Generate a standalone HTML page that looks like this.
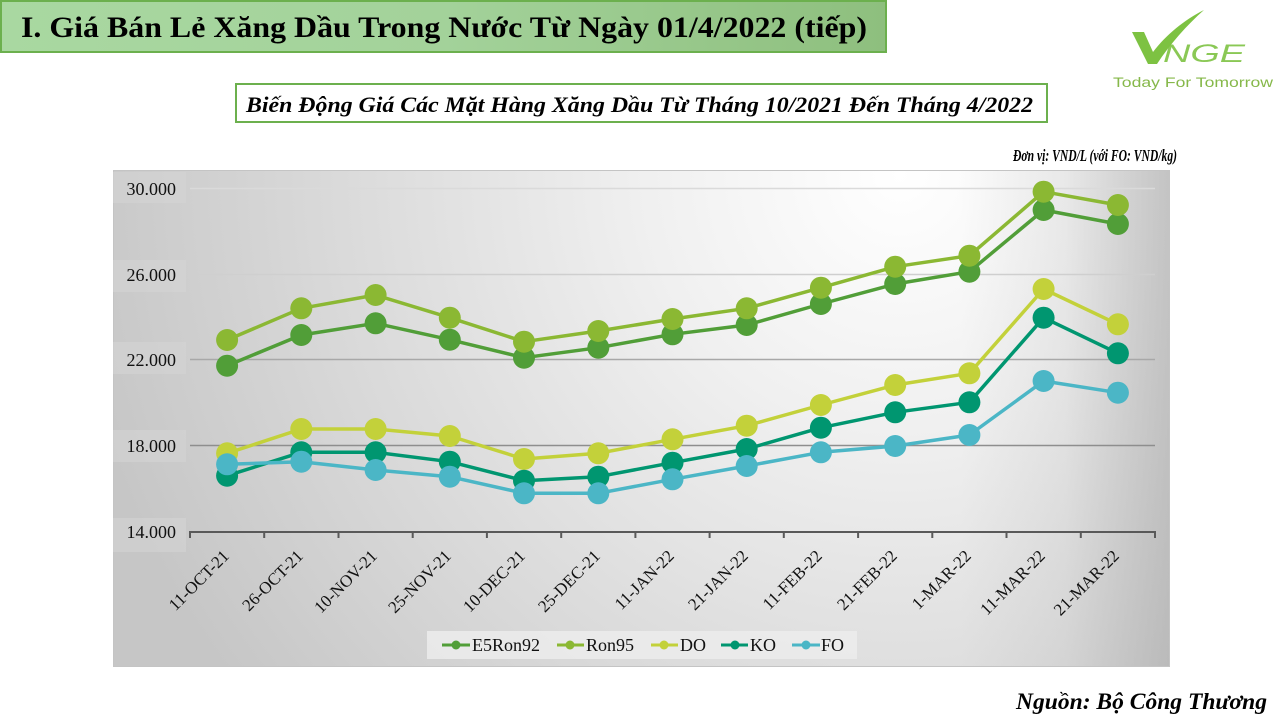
<!DOCTYPE html>
<html>
<head>
<meta charset="utf-8">
<style>
html,body{margin:0;padding:0;background:#fff;}
svg{display:block;}
</style>
</head>
<body>
<svg width="1280" height="720" viewBox="0 0 1280 720" xmlns="http://www.w3.org/2000/svg">
<defs>
<linearGradient id="tg" x1="0" y1="0" x2="1" y2="0">
<stop offset="0" stop-color="#a9d8a1"/>
<stop offset="0.5" stop-color="#a3d29a"/>
<stop offset="1" stop-color="#8ebf7e"/>
</linearGradient>
<radialGradient id="bg" gradientUnits="userSpaceOnUse" cx="900" cy="175" r="840">
<stop offset="0" stop-color="#ffffff"/>
<stop offset="0.3" stop-color="#f0f0f0"/>
<stop offset="1" stop-color="#c6c6c6"/>
</radialGradient>
<linearGradient id="re" gradientUnits="userSpaceOnUse" x1="960" y1="0" x2="1170" y2="0">
<stop offset="0" stop-color="#a0a0a0" stop-opacity="0"/>
<stop offset="0.5" stop-color="#a0a0a0" stop-opacity="0.15"/>
<stop offset="1" stop-color="#a0a0a0" stop-opacity="0.55"/>
</linearGradient>
</defs>

<!-- Title -->
<rect x="1" y="1" width="885" height="51" fill="url(#tg)" stroke="#6cb04e" stroke-width="2"/>
<text x="21" y="37" font-family="Liberation Serif, serif" font-weight="bold" font-size="30" fill="#000" textLength="846" lengthAdjust="spacingAndGlyphs">I. Giá Bán Lẻ Xăng Dầu Trong Nước Từ Ngày 01/4/2022 (tiếp)</text>

<!-- Logo -->
<path d="M1132,32 L1144,32 L1153,52 C1166,35 1184,20 1204,10 C1187,25 1170,44 1157,64 L1148,64 Z" fill="#7dc242"/>
<text x="1163" y="62" font-family="Liberation Sans, sans-serif" font-style="italic" font-size="25" fill="#7dc242" fill-opacity="0.9" textLength="82" lengthAdjust="spacingAndGlyphs">NGE</text>
<text x="1113" y="87" font-family="Liberation Sans, sans-serif" font-size="13.5" fill="#86b84a" textLength="160" lengthAdjust="spacingAndGlyphs">Today For Tomorrow</text>

<!-- Subtitle -->
<rect x="236" y="84" width="811" height="38" fill="#fff" stroke="#6cb04e" stroke-width="2"/>
<text x="246" y="112" font-family="Liberation Serif, serif" font-weight="bold" font-style="italic" font-size="22.5" fill="#000" textLength="787" lengthAdjust="spacingAndGlyphs">Biến Động Giá Các Mặt Hàng Xăng Dầu Từ Tháng 10/2021 Đến Tháng 4/2022</text>

<!-- Unit -->
<text x="1013" y="161" font-family="Liberation Serif, serif" font-weight="bold" font-style="italic" font-size="17" fill="#000" textLength="164" lengthAdjust="spacingAndGlyphs">Đơn vị: VND/L (với FO: VND/kg)</text>

<!-- Chart background -->
<rect x="113" y="170" width="1057" height="497" fill="url(#bg)"/>
<rect x="960" y="170" width="210" height="497" fill="url(#re)"/>
<rect x="113.5" y="170.5" width="1056" height="496" fill="none" stroke="#c4c4c4" stroke-width="1"/>

<!-- Y label boxes -->
<g fill="#d6d6d6" fill-opacity="0.55">
<rect x="113" y="172" width="73" height="31"/>
<rect x="113" y="260" width="73" height="32"/>
<rect x="113" y="342" width="73" height="32"/>
<rect x="113" y="430" width="73" height="32"/>
<rect x="113" y="518" width="73" height="34"/>
</g>

<!-- Gridlines -->
<line x1="190" y1="188.5" x2="1155" y2="188.5" stroke="#dadada" stroke-width="1.5"/>
<line x1="190" y1="274.5" x2="1155" y2="274.5" stroke="#cfcfcf" stroke-width="1.5"/>
<line x1="190" y1="359.5" x2="1155" y2="359.5" stroke="#a8a8a8" stroke-width="1.5"/>
<line x1="190" y1="445.5" x2="1155" y2="445.5" stroke="#8e8e8e" stroke-width="1.5"/>

<!-- Y labels -->
<g font-family="Liberation Serif, serif" font-size="18" fill="#111" text-anchor="end">
<text x="176" y="195">30.000</text>
<text x="176" y="281">26.000</text>
<text x="176" y="366">22.000</text>
<text x="176" y="452">18.000</text>
<text x="176" y="538">14.000</text>
</g>

<!-- X axis -->
<line x1="189" y1="532" x2="1156" y2="532" stroke="#595959" stroke-width="2"/>
<g stroke="#595959" stroke-width="2">
<line x1="190" y1="532" x2="190" y2="538"/>
<line x1="264.2" y1="532" x2="264.2" y2="538"/>
<line x1="338.5" y1="532" x2="338.5" y2="538"/>
<line x1="412.7" y1="532" x2="412.7" y2="538"/>
<line x1="486.9" y1="532" x2="486.9" y2="538"/>
<line x1="561.2" y1="532" x2="561.2" y2="538"/>
<line x1="635.4" y1="532" x2="635.4" y2="538"/>
<line x1="709.6" y1="532" x2="709.6" y2="538"/>
<line x1="783.8" y1="532" x2="783.8" y2="538"/>
<line x1="858.1" y1="532" x2="858.1" y2="538"/>
<line x1="932.3" y1="532" x2="932.3" y2="538"/>
<line x1="1006.5" y1="532" x2="1006.5" y2="538"/>
<line x1="1080.8" y1="532" x2="1080.8" y2="538"/>
<line x1="1155" y1="532" x2="1155" y2="538"/>
</g>

<!-- X labels -->
<g font-family="Liberation Serif, serif" font-size="17" fill="#111" text-anchor="end">
<text transform="translate(230,557) rotate(-45)">11-OCT-21</text>
<text transform="translate(304,557) rotate(-45)">26-OCT-21</text>
<text transform="translate(378,557) rotate(-45)">10-NOV-21</text>
<text transform="translate(452,557) rotate(-45)">25-NOV-21</text>
<text transform="translate(526,557) rotate(-45)">10-DEC-21</text>
<text transform="translate(601,557) rotate(-45)">25-DEC-21</text>
<text transform="translate(675,557) rotate(-45)">11-JAN-22</text>
<text transform="translate(749,557) rotate(-45)">21-JAN-22</text>
<text transform="translate(823,557) rotate(-45)">11-FEB-22</text>
<text transform="translate(898,557) rotate(-45)">21-FEB-22</text>
<text transform="translate(972,557) rotate(-45)">1-MAR-22</text>
<text transform="translate(1046,557) rotate(-45)">11-MAR-22</text>
<text transform="translate(1120,557) rotate(-45)">21-MAR-22</text>
</g>

<!-- Series: E5Ron92 -->
<g fill="#519e38">
<polyline fill="none" stroke="#519e38" stroke-width="3.5" stroke-linejoin="round" points="227.1,365.7 301.3,335 375.6,323.3 449.8,339.7 524,357.7 598.3,347.7 672.5,334.3 746.7,325 820.9,304 895.2,284 969.4,271.7 1043.6,210 1117.9,224"/>
<circle cx="227.1" cy="365.7" r="11"/><circle cx="301.3" cy="335" r="11"/><circle cx="375.6" cy="323.3" r="11"/><circle cx="449.8" cy="339.7" r="11"/><circle cx="524" cy="357.7" r="11"/><circle cx="598.3" cy="347.7" r="11"/><circle cx="672.5" cy="334.3" r="11"/><circle cx="746.7" cy="325" r="11"/><circle cx="820.9" cy="304" r="11"/><circle cx="895.2" cy="284" r="11"/><circle cx="969.4" cy="271.7" r="11"/><circle cx="1043.6" cy="210" r="11"/><circle cx="1117.9" cy="224" r="11"/>
</g>

<!-- Series: Ron95 -->
<g fill="#8bb833">
<polyline fill="none" stroke="#8bb833" stroke-width="3.5" stroke-linejoin="round" points="227.1,340 301.3,308.3 375.6,295 449.8,317.7 524,341.7 598.3,331 672.5,319 746.7,308.3 820.9,287.7 895.2,266.7 969.4,255.7 1043.6,191.7 1117.9,205"/>
<circle cx="227.1" cy="340" r="11"/><circle cx="301.3" cy="308.3" r="11"/><circle cx="375.6" cy="295" r="11"/><circle cx="449.8" cy="317.7" r="11"/><circle cx="524" cy="341.7" r="11"/><circle cx="598.3" cy="331" r="11"/><circle cx="672.5" cy="319" r="11"/><circle cx="746.7" cy="308.3" r="11"/><circle cx="820.9" cy="287.7" r="11"/><circle cx="895.2" cy="266.7" r="11"/><circle cx="969.4" cy="255.7" r="11"/><circle cx="1043.6" cy="191.7" r="11"/><circle cx="1117.9" cy="205" r="11"/>
</g>

<!-- Series: DO -->
<g fill="#c3d13a">
<polyline fill="none" stroke="#c3d13a" stroke-width="3.5" stroke-linejoin="round" points="227.1,453.3 301.3,429 375.6,429 449.8,436 524,459 598.3,453.3 672.5,439.3 746.7,425.7 820.9,405 895.2,385 969.4,373.3 1043.6,289 1117.9,324.3"/>
<circle cx="227.1" cy="453.3" r="11"/><circle cx="301.3" cy="429" r="11"/><circle cx="375.6" cy="429" r="11"/><circle cx="449.8" cy="436" r="11"/><circle cx="524" cy="459" r="11"/><circle cx="598.3" cy="453.3" r="11"/><circle cx="672.5" cy="439.3" r="11"/><circle cx="746.7" cy="425.7" r="11"/><circle cx="820.9" cy="405" r="11"/><circle cx="895.2" cy="385" r="11"/><circle cx="969.4" cy="373.3" r="11"/><circle cx="1043.6" cy="289" r="11"/><circle cx="1117.9" cy="324.3" r="11"/>
</g>

<!-- Series: KO -->
<g fill="#009670">
<polyline fill="none" stroke="#009670" stroke-width="3.5" stroke-linejoin="round" points="227.1,475.7 301.3,452.3 375.6,452.3 449.8,461.7 524,480.7 598.3,476.7 672.5,462.7 746.7,449 820.9,427.7 895.2,412.3 969.4,402.3 1043.6,317.7 1117.9,353.3"/>
<circle cx="227.1" cy="475.7" r="11"/><circle cx="301.3" cy="452.3" r="11"/><circle cx="375.6" cy="452.3" r="11"/><circle cx="449.8" cy="461.7" r="11"/><circle cx="524" cy="480.7" r="11"/><circle cx="598.3" cy="476.7" r="11"/><circle cx="672.5" cy="462.7" r="11"/><circle cx="746.7" cy="449" r="11"/><circle cx="820.9" cy="427.7" r="11"/><circle cx="895.2" cy="412.3" r="11"/><circle cx="969.4" cy="402.3" r="11"/><circle cx="1043.6" cy="317.7" r="11"/><circle cx="1117.9" cy="353.3" r="11"/>
</g>

<!-- Series: FO -->
<g fill="#4bb6c6">
<polyline fill="none" stroke="#4bb6c6" stroke-width="3.5" stroke-linejoin="round" points="227.1,464.3 301.3,461.7 375.6,470 449.8,476.7 524,493.3 598.3,493.3 672.5,479.3 746.7,466 820.9,452.3 895.2,446 969.4,435 1043.6,381 1117.9,392.7"/>
<circle cx="227.1" cy="464.3" r="11"/><circle cx="301.3" cy="461.7" r="11"/><circle cx="375.6" cy="470" r="11"/><circle cx="449.8" cy="476.7" r="11"/><circle cx="524" cy="493.3" r="11"/><circle cx="598.3" cy="493.3" r="11"/><circle cx="672.5" cy="479.3" r="11"/><circle cx="746.7" cy="466" r="11"/><circle cx="820.9" cy="452.3" r="11"/><circle cx="895.2" cy="446" r="11"/><circle cx="969.4" cy="435" r="11"/><circle cx="1043.6" cy="381" r="11"/><circle cx="1117.9" cy="392.7" r="11"/>
</g>

<!-- Legend -->
<rect x="427" y="631" width="430" height="28" fill="#ececec" fill-opacity="0.85"/>
<g stroke-width="3">
<line x1="442" y1="645" x2="470" y2="645" stroke="#519e38"/>
<line x1="557" y1="645" x2="584" y2="645" stroke="#8bb833"/>
<line x1="651" y1="645" x2="678" y2="645" stroke="#c3d13a"/>
<line x1="721" y1="645" x2="748" y2="645" stroke="#009670"/>
<line x1="792" y1="645" x2="820" y2="645" stroke="#4bb6c6"/>
</g>
<circle cx="456" cy="645" r="4.5" fill="#519e38"/>
<circle cx="570" cy="645" r="4.5" fill="#8bb833"/>
<circle cx="664" cy="645" r="4.5" fill="#c3d13a"/>
<circle cx="735" cy="645" r="4.5" fill="#009670"/>
<circle cx="806" cy="645" r="4.5" fill="#4bb6c6"/>
<g font-family="Liberation Serif, serif" font-size="18" fill="#111">
<text x="472" y="651">E5Ron92</text>
<text x="586" y="651">Ron95</text>
<text x="680" y="651">DO</text>
<text x="750" y="651">KO</text>
<text x="821" y="651">FO</text>
</g>

<!-- Source -->
<text x="1016" y="709" font-family="Liberation Serif, serif" font-weight="bold" font-style="italic" font-size="23" fill="#000" textLength="251" lengthAdjust="spacingAndGlyphs">Nguồn: Bộ Công Thương</text>
</svg>
</body>
</html>
